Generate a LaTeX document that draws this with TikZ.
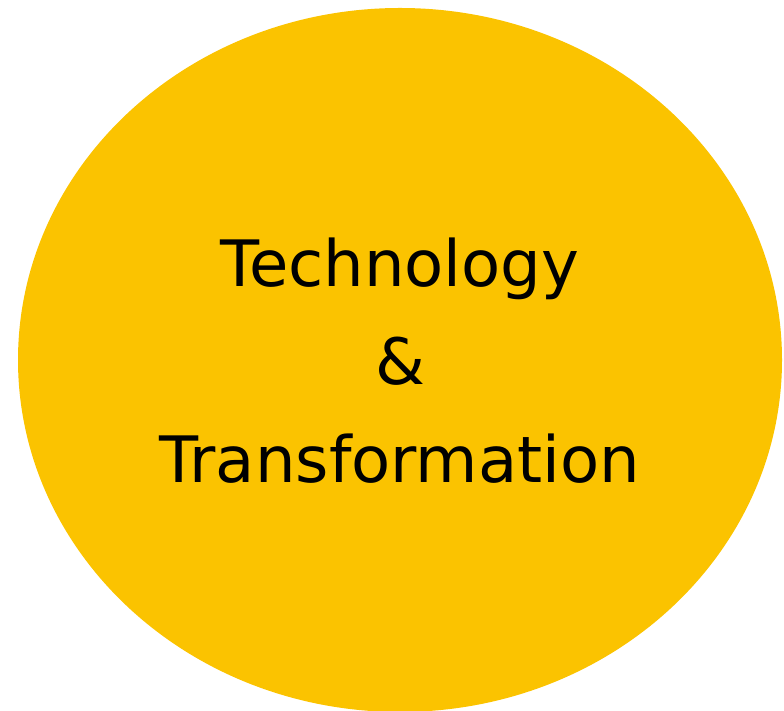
\documentclass[tikz,border=0pt]{standalone}
\usepackage{fontspec}
\setmainfont{DejaVu Sans}
\usepackage{tikz}
\usetikzlibrary{shapes.geometric, positioning}
\definecolor{amberfill}{RGB}{251,195,0}
\tikzset{
	bigdisc/.style={ellipse, fill=amberfill, inner sep=0pt,
		minimum width=764pt, minimum height=704pt},
	disclabel/.style={align=center, inner sep=0pt,
		font=\fontsize{64}{98}\selectfont}
}

\begin{document}
\begin{tikzpicture}[x=1pt, y=1pt]
			\useasboundingbox (0, 0) rectangle (784, 711);
			\node [bigdisc] (disc) at (400, 351) {};
			\node [disclabel] (title) at (400, 350) {Technology\\\&\\Transformation};
		\end{tikzpicture}
\end{document}
